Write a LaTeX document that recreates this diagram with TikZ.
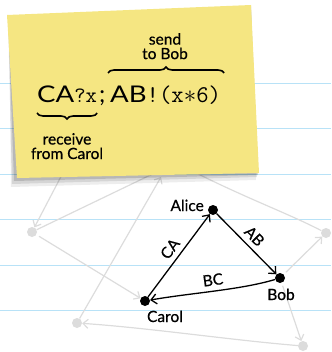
\documentclass[tikz,border=0pt]{standalone}
\usepackage{fontspec}
\setmainfont{Lato}
\newfontfamily\lblfont{Lato}[FakeBold=0.6]
\newfontfamily\widefont{Lato}[FakeStretch=1.2]
\usepackage{xcolor}
\usepackage{tikz}
\usetikzlibrary{arrows.meta,decorations.pathreplacing}

\definecolor{notebg}{RGB}{245,230,130}
\definecolor{ruled}{RGB}{184,226,247}
\definecolor{faint}{RGB}{220,220,220}

\begin{document}
\begin{tikzpicture}[x=1pt, y=-1pt,
  dot/.style={circle, fill=black, inner sep=0pt, minimum size=10pt},
  ghost/.style={circle, fill=faint, inner sep=0pt, minimum size=10pt},
  lbl/.style={font=\lblfont\fontsize{15.5}{14.5}\selectfont, inner sep=0pt},
  big/.style={font=\fontsize{24}{24}\selectfont, inner sep=0pt, anchor=base west},
  arr/.style={-{Straight Barb[length=5.5pt,width=10pt]}, line width=1.3pt},
  farr/.style={-{Straight Barb[length=5pt,width=9pt]}, line width=1.2pt, faint},
  fline/.style={line width=1.2pt, faint},
  brc/.style={decorate, decoration={brace, amplitude=6pt}, line width=1.6pt}
]
\useasboundingbox (0,0) rectangle (331,352);

% ruled paper
\draw[ruled, line width=0.8pt]
  (0,83) -- (331,83) (0,128) -- (331,128) (0,174) -- (331,174)
  (0,219) -- (331,219) (0,265) -- (331,265) (0,310) -- (331,310);

% faded graph behind the note
\node[ghost] (g1) at (32,232) {};
\node[ghost] (g2) at (326,233) {};
\node[ghost] (g3) at (77,323) {};
\node[ghost] (g4) at (303,346) {};
\coordinate (h1) at (67,165);
\coordinate (h2) at (165,168);
\coordinate (h3) at (161,177);
\coordinate (h4) at (190,170);

\node[dot] (alice) at (213,210) {};
\node[dot] (bob)   at (280,278) {};
\node[dot] (carol) at (145,301) {};

\draw[farr] (h1) -- (g1);
\draw[fline] (g1) -- (h2);
\draw[farr] (g3) -- (h3);
\draw[farr, shorten <=3pt] (g1) -- (carol);
\draw[fline] (h4) .. controls (250,200) and (285,212) .. (g2);
\draw[farr, shorten <=3pt] (bob) -- (g2);
\draw[farr, shorten <=3pt] (bob) -- (g4);
\draw[farr] (g4) .. controls (230,340) and (150,328) .. (g3);

% sticky note
\fill[black, opacity=0.07] (9,17) -- (251,9) -- (256,180) -- (11,187) -- cycle;
\fill[black, opacity=0.10] (8,16) -- (251,7) -- (257,177) -- (12,184) -- cycle;
\fill[black, opacity=0.14] (8,16) -- (251,6) -- (258,175) -- (14,181) -- cycle;
\fill[notebg] (7,15) -- (251,5) -- (259,173) -- (17,178) -- cycle;

\node[big] (recv) at (37,103) {{\widefont\fontsize{23}{23}\selectfont CA}{\fontsize{22}{22}\selectfont\texttt{?x}}};
\node[big] (semi) at (99,103) {;};
\node[big] (send) at (110,103) {{\widefont\fontsize{23}{23}\selectfont AB}\texttt{!(x}$\ast$\texttt{6)}};

\draw[brc] ([yshift=-10pt]recv.base east) -- ([yshift=-10pt]recv.base west);
\draw[brc] ([xshift=-2pt, yshift=30pt]send.base west) -- ([xshift=3pt, yshift=30pt]send.base east);

\node[lbl, align=center, anchor=north] (recvlbl) at (67,133) {receive\\from Carol};
\node[lbl, align=center, anchor=north] (sendlbl) at (165,33) {send\\to Bob};

% the protocol graph
\node[lbl, anchor=base east] (alicelbl) at (204,211) {Alice};
\node[lbl, anchor=base] (boblbl) at (281,300) {Bob};
\node[lbl, anchor=base] (carollbl) at (165,322) {Carol};

\draw[arr] (carol) -- node[lbl, sloped, above=5pt] {CA} (alice);
\draw[arr] (alice) -- node[lbl, sloped, above=5pt] {AB} (bob);
\draw[arr] (bob) .. controls (240,290) and (190,293) .. node[lbl, sloped, above=5pt] {BC} (carol);
\end{tikzpicture}
\end{document}
